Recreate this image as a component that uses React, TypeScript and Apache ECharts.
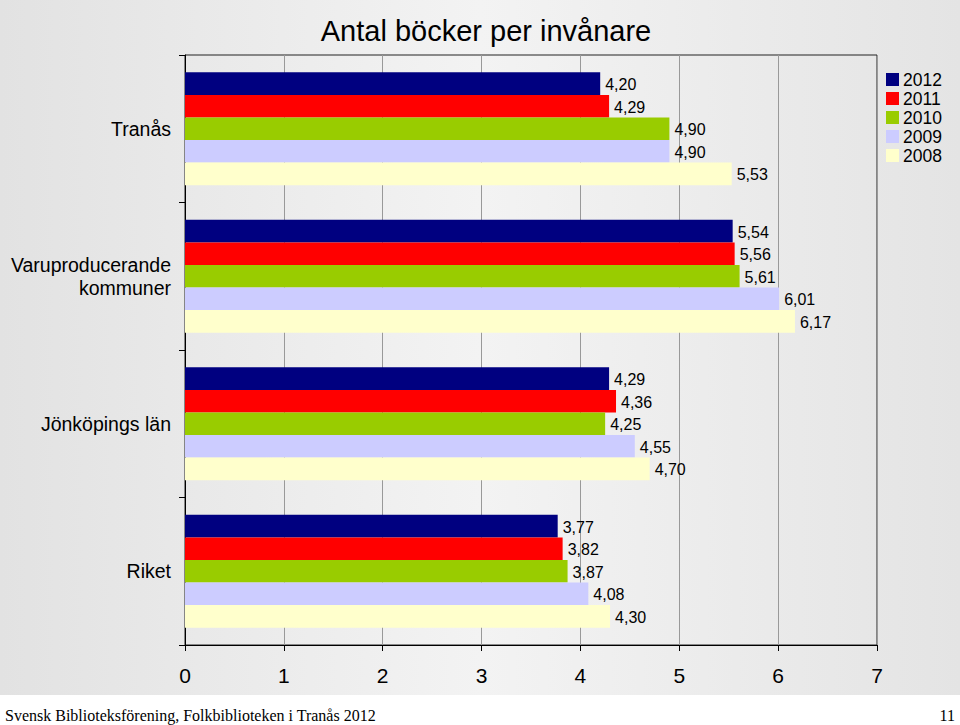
import React, { useEffect, useRef } from "react";
import * as echarts from "echarts";

const categories = ["Tranås", "Varuproducerande\nkommuner", "Jönköpings län", "Riket"];
const seriesNames = ["2012", "2011", "2010", "2009", "2008"];
const seriesColors = ["#000080", "#ff0000", "#99cc00", "#ccccff", "#ffffcc"];
const values2012 = [4.2, 5.54, 4.29, 3.77];
const values2011 = [4.29, 5.56, 4.36, 3.82];
const values2010 = [4.9, 5.61, 4.25, 3.87];
const values2009 = [4.9, 6.01, 4.55, 4.08];
const values2008 = [5.53, 6.17, 4.7, 4.3];
const allValues = [values2012, values2011, values2010, values2009, values2008];
const xTicks = [0, 1, 2, 3, 4, 5, 6, 7];

export default function App() {
  const ref = useRef<HTMLDivElement>(null);
  useEffect(() => {
    if (!ref.current) return;
    const chart = echarts.init(ref.current, undefined, { renderer: "svg" });
    const font = "Liberation Sans, Arial, sans-serif";
    chart.setOption({
      animation: false,
      backgroundColor: "transparent",
      title: {
        text: "Antal böcker per invånare",
        left: 481,
        textAlign: "center",
        top: 11,
        textStyle: { fontFamily: font, fontSize: 29, fontWeight: "normal", color: "#000" },
      },
      legend: {
        data: seriesNames,
        orient: "vertical",
        left: 881,
        top: 65,
        itemWidth: 13,
        itemHeight: 13,
        itemGap: 0,
        icon: "rect",
        textStyle: {
          fontFamily: font,
          fontSize: 17.5,
          lineHeight: 19,
          color: "#000",
          padding: [0, 0, 0, -1],
        },
      },
      grid: {
        left: 185,
        right: 83,
        top: 55,
        bottom: 80,
        show: true,
        borderColor: "#222",
        borderWidth: 1,
        backgroundColor: "transparent",
      },
      xAxis: {
        type: "value",
        min: 0,
        max: 7,
        interval: 1,
        axisLine: { show: true, lineStyle: { color: "#000", width: 1 } },
        axisTick: { show: true, length: 6, lineStyle: { color: "#000" } },
        splitLine: { show: true, lineStyle: { color: "#999", width: 1 } },
        axisLabel: {
          fontFamily: font,
          fontSize: 21,
          color: "#000",
          margin: 20,
          formatter: (v: number) => (xTicks.includes(v) ? String(v) : ""),
        },
      },
      yAxis: {
        type: "category",
        data: categories,
        inverse: true,
        axisLine: { show: true, lineStyle: { color: "#000", width: 1 } },
        axisTick: { show: true, length: 6, lineStyle: { color: "#000" } },
        axisLabel: {
          fontFamily: font,
          fontSize: 19.5,
          color: "#000",
          margin: 14,
          align: "right",
          lineHeight: 23,
        },
      },
      series: seriesNames.map((name, i) => ({
        name,
        type: "bar",
        data: allValues[i],
        barGap: "0%",
        barCategoryGap: "23.5%",
        itemStyle: { color: seriesColors[i] },
        label: {
          show: true,
          position: "right",
          distance: 5,
          offset: [0, 1],
          fontFamily: font,
          fontSize: 16,
          color: "#000",
          formatter: (p: any) => p.value.toFixed(2).replace(".", ","),
        },
      })),
      graphic: [
        {
          type: "text",
          left: 5,
          top: 707,
          style: {
            text: "Svensk Biblioteksförening, Folkbiblioteken i Tranås 2012",
            fontFamily: "Liberation Serif, Times New Roman, serif",
            fontSize: 16,
            fill: "#000",
          },
        },
        {
          type: "text",
          right: 5,
          top: 707,
          style: {
            text: "11",
            fontFamily: "Liberation Serif, Times New Roman, serif",
            fontSize: 16,
            fill: "#000",
          },
        },
      ],
    });
    return () => chart.dispose();
  }, []);
  return (
    <div style={{ position: "fixed", left: 0, top: 0, width: 960, height: 725, background: "#fff" }}>
      <div
        style={{
          position: "absolute",
          left: 0,
          top: 0,
          width: 960,
          height: 695,
          background: "linear-gradient(to right, #e2e2e2 0%, #f3f3f3 50%, #e4e4e4 100%)",
        }}
      />
      <div ref={ref} style={{ position: "absolute", left: 0, top: 0, width: 960, height: 725 }} />
    </div>
  );
}
